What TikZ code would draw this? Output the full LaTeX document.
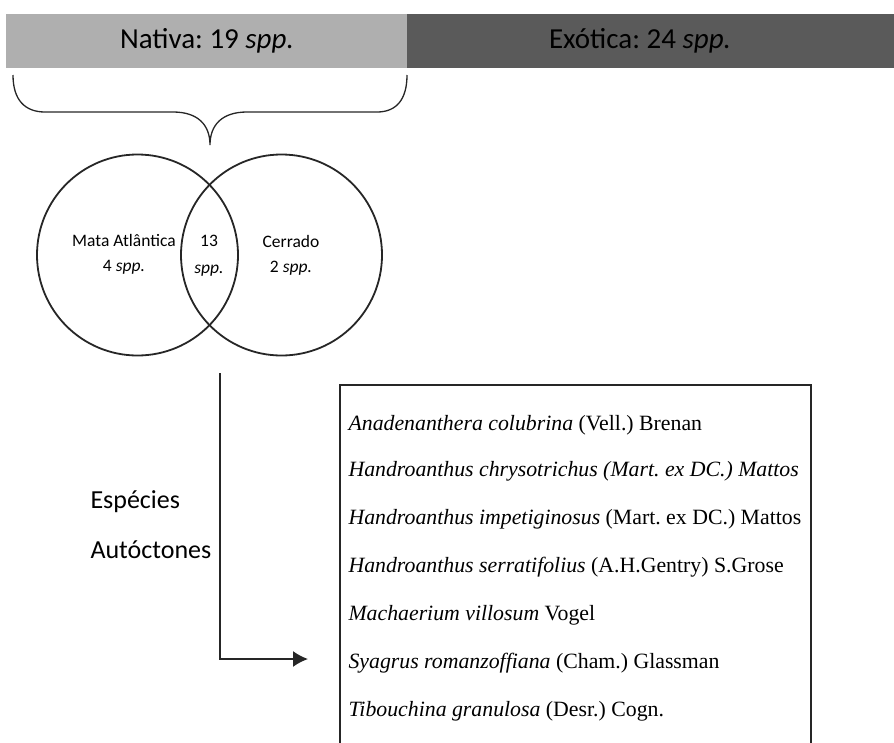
\documentclass[tikz,border=0pt]{standalone}
\usepackage{fontspec}
\usetikzlibrary{arrows.meta}
\setmainfont{Liberation Serif}
\newfontfamily\calib{Carlito}
\definecolor{barlight}{HTML}{AFAFAF}
\definecolor{bardark}{HTML}{5A5A5A}
\begin{document}
\frenchspacing
\begin{tikzpicture}[x=1pt,y=-1pt,
  hdr/.style={font=\calib\fontsize{29}{34}\selectfont, text=black},
  venn/.style={font=\calib\fontsize{17.5}{21}\selectfont, align=center},
  side/.style={font=\calib\fontsize{26}{30}\selectfont, anchor=west},
  sp/.style={font=\fontsize{21.8}{25}\selectfont, anchor=west},
  ring/.style={draw=black!85, line width=1.8pt},
  thinline/.style={draw=black!85, line width=1.6pt}]
\useasboundingbox (0,0) rectangle (894,742);
% header bars
\fill[barlight] (6,14) rectangle (407,68);
\fill[bardark] (407,14) rectangle (894,68);
\node[hdr] (nat) at (207,41) {Nativa: 19 \textit{spp.}};
\node[hdr] (exo) at (640,41) {Exótica: 24 \textit{spp.}};
% brace
\draw[thinline, line width=1.3pt] (13,75) .. controls (13,100) and (25,112) .. (45,112) -- (173,112)
  .. controls (198,112) and (210,125) .. (210,145)
  .. controls (210,125) and (222,112) .. (247,112) -- (377,112)
  .. controls (396,112) and (407,100) .. (407,75);
% venn
\node[ring, circle, minimum size=201pt, inner sep=0pt] (ma) at (137.5,255) {};
\node[ring, circle, minimum size=201pt, inner sep=0pt] (ce) at (281.5,255) {};
\node[venn] (malab) at (124,254) {Mata Atlântica\\[4pt]4 \textit{spp.}};
\node[venn] (inter) at (209,256) {13\\[6pt]\textit{spp.}};
\node[venn] (celab) at (291,255) {Cerrado\\[4pt]2 \textit{spp.}};
% arrow
\coordinate (a0) at (220,373);
\coordinate (a1) at (220,659);
\coordinate (a2) at (308,659);
\draw[thinline, -{Latex[length=15pt,width=16pt]}] (a0) -- (a1) -- (a2);
% side label
\node[side] (esp) at (87,502) {Espécies};
\node[side] (aut) at (87,550) {Autóctones};
% box
\draw[line width=1.4pt, black!85] (340,800) -- (340,385) -- (811,385) -- (811,800);
\node[sp] (s1) at (345,425) {\textit{Anadenanthera colubrina} (Vell.) Brenan};
\node[sp] (s2) at (345,471) {\textit{Handroanthus chrysotrichus (Mart. ex DC.) Mattos}};
\node[sp] (s3) at (345,519) {\textit{Handroanthus impetiginosus} (Mart. ex DC.) Mattos};
\node[sp] (s4) at (345,567) {\textit{Handroanthus serratifolius} (A.H.Gentry) S.Grose};
\node[sp] (s5) at (345,615) {\textit{Machaerium villosum} Vogel};
\node[sp] (s6) at (345,663) {\textit{Syagrus romanzoffiana} (Cham.) Glassman};
\node[sp] (s7) at (345,711) {\textit{Tibouchina granulosa} (Desr.) Cogn.};
\end{tikzpicture}
\end{document}
